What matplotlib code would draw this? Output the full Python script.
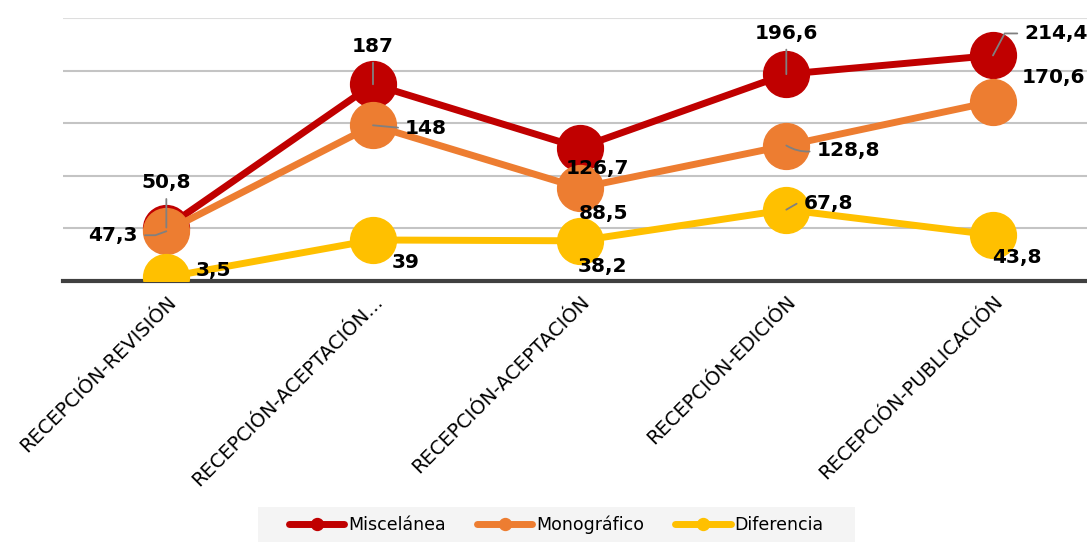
import matplotlib
matplotlib.use('Agg')
import matplotlib.pyplot as plt
from matplotlib.patches import Rectangle

# datos
categorias = ['RECEPCIÓN-REVISIÓN', 'RECEPCIÓN-ACEPTACIÓN...', 'RECEPCIÓN-ACEPTACIÓN',
              'RECEPCIÓN-EDICIÓN', 'RECEPCIÓN-PUBLICACIÓN']
miscelanea = [50.8, 187, 126.7, 196.6, 214.4]
monografico = [47.3, 148, 88.5, 128.8, 170.6]
diferencia = [3.5, 39, 38.2, 67.8, 43.8]

series = [
    ('Miscelánea', miscelanea, '#C00000'),
    ('Monográfico', monografico, '#ED7D31'),
    ('Diferencia', diferencia, '#FFC000'),
]

# desplazamiento de las etiquetas (px) y linea guia: (enganche en el texto, conexion)
V = ((0.5, 0.0), 'arc3')
etiquetas = {
    'Miscelánea': [((0, 45), V), ((0, 38), V), ((18, -21), None),
                   ((0, 41), V), ((63, 22), ((0.0, 0.5), 'angle,angleA=0,angleB=62,rad=0'))],
    'Monográfico': [((-53, -4), ((1.0, 0.5), 'angle,angleA=0,angleB=20,rad=0')),
                    ((53, -3), ((0.0, 0.5), 'arc3')), ((24, -26), None),
                    ((62, -5), ((0.0, 0.5), 'arc3,rad=-0.2')), ((60, 24), None)],
    'Diferencia': [((47, 7), None), ((33, -23), None), ((23, -26), None),
                   ((42, 6), ((0.0, 0.5), 'angle,angleA=0,angleB=30,rad=0')), ((24, -23), None)],
}

fig = plt.figure(figsize=(10.87, 5.42), dpi=100)
ax = fig.add_axes([63 / 1087, 1 - 281 / 542, 1 - 63 / 1087, (281 - 18) / 542])

x = list(range(len(categorias)))
for i, (nombre, vals, color) in enumerate(series):
    ax.plot(x, vals, color=color, lw=5, marker='o', markersize=33, label=nombre,
            zorder=3 + i, solid_capstyle='round')
    for xi, v, ((dx, dy), guia) in zip(x, vals, etiquetas[nombre]):
        txt = f'{v:g}'.replace('.', ',')
        props = None
        if guia is not None:
            props = dict(arrowstyle='-', color='#808080', lw=1.3, shrinkA=3, shrinkB=0,
                         relpos=guia[0], connectionstyle=guia[1])
        ax.annotate(txt, (xi, v), xytext=(dx * 0.72, dy * 0.72), textcoords='offset points',
                    ha='center', va='center', fontsize=14.5, fontweight='bold', color='black',
                    arrowprops=props, zorder=10)

ax.set_xlim(-0.5, 4.455)
ax.set_ylim(0, 250)
ax.set_yticks([50, 100, 150, 200, 250])
ax.yaxis.grid(True, color='#c4c4c4', lw=1.5)
ax.get_ygridlines()[-1].set_color('#dedede')
ax.set_axisbelow(True)
ax.tick_params(axis='y', left=False, labelleft=False)
ax.tick_params(axis='x', length=0, pad=8)
for s in ['top', 'right', 'left']:
    ax.spines[s].set_visible(False)
ax.spines['bottom'].set_color('#404040')
ax.spines['bottom'].set_linewidth(3)
ax.spines['bottom'].set_zorder(2)

ax.set_xticks(x)
ax.set_xticklabels(categorias, rotation=45, ha='right', va='top', rotation_mode='anchor',
                   fontsize=14)

# fondo de la leyenda
fig.patches.append(Rectangle((258 / 1087, 0), (855 - 258) / 1087, 35 / 542,
                             transform=fig.transFigure, facecolor='#f4f4f4',
                             edgecolor='none', zorder=0))
leg = fig.legend(handles=ax.get_lines(), loc='center', bbox_to_anchor=(0.5115, 0.032),
                 ncol=3, fontsize=12.5, frameon=False, handlelength=3.2,
                 markerscale=0.26, columnspacing=1.8, handletextpad=0.2)

fig.savefig('out.png', dpi=100)
